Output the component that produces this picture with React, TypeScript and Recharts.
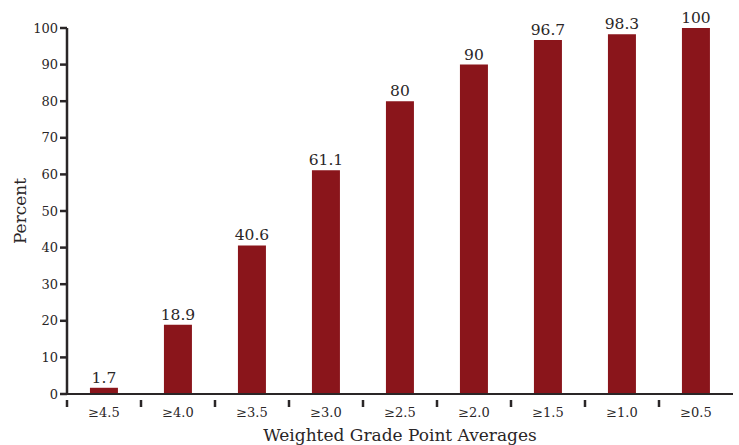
import React from 'react';
import { BarChart, Bar, XAxis, YAxis, LabelList } from 'recharts';

const categories = ['≥4.5', '≥4.0', '≥3.5', '≥3.0', '≥2.5', '≥2.0', '≥1.5', '≥1.0', '≥0.5'];
const percents = [1.7, 18.9, 40.6, 61.1, 80, 90, 96.7, 98.3, 100];
const yTicks = [0, 10, 20, 30, 40, 50, 60, 70, 80, 90, 100];

const data = categories.map((name, i) => ({ name, value: percents[i] }));

const FONT = '"DejaVu Serif", Georgia, serif';
const INK = '#2a2627';
const BAR = '#8a151b';

// tick label at the band centre, tick mark on the band's left edge
const BandTick = (props: any) => {
  const { x, y, payload } = props;
  const off = payload.offset || 0;
  return (
    <g>
      <line x1={x - off} x2={x - off} y1={y - 2} y2={y + 5} stroke={INK} strokeWidth={2.5} />
      <text x={x} y={y + 15} textAnchor="middle" fontFamily={FONT} fontSize={13} fill={INK}>
        {payload.value}
      </text>
    </g>
  );
};

export default function App() {
  return (
    <div style={{ position: 'absolute', left: 0, top: 0, background: '#fff' }}>
      <BarChart
        width={739}
        height={445}
        data={data}
        margin={{ top: 28, right: 6, left: 0, bottom: 0 }}
        barCategoryGap="31%"
      >
        <XAxis
          dataKey="name"
          height={51}
          tickLine={false}
          axisLine={{ stroke: INK, strokeWidth: 2 }}
          tick={<BandTick />}
          interval={0}
          label={{
            value: 'Weighted Grade Point Averages',
            position: 'insideBottom',
            offset: 4,
            fontFamily: FONT,
            fontSize: 17,
            fill: INK,
          }}
        />
        <YAxis
          width={67}
          domain={[0, 100]}
          ticks={yTicks}
          interval={0}
          tickSize={7}
          tickLine={{ stroke: INK, strokeWidth: 2.5 }}
          axisLine={{ stroke: INK, strokeWidth: 2.5 }}
          tick={{ fontFamily: FONT, fontSize: 13, fill: INK }}
          label={{
            value: 'Percent',
            angle: -90,
            position: 'insideLeft',
            offset: 20,
            style: { textAnchor: 'middle' },
            fontFamily: FONT,
            fontSize: 17,
            fill: INK,
          }}
        />
        <Bar dataKey="value" fill={BAR} isAnimationActive={false}>
          <LabelList
            dataKey="value"
            position="top"
            offset={5}
            fontFamily={FONT}
            fontSize={15.5}
            fill={INK}
          />
        </Bar>
      </BarChart>
    </div>
  );
}
